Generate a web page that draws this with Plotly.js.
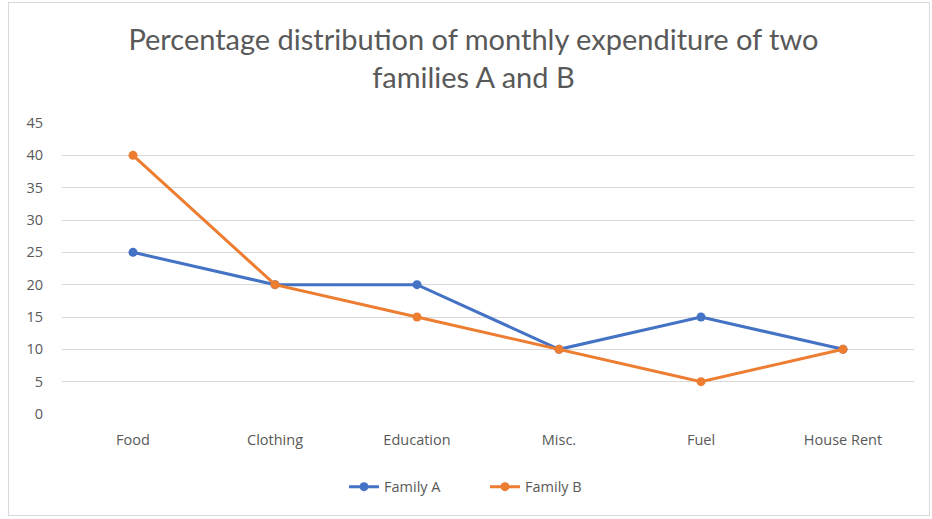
<!DOCTYPE html>
<html>
<head>
<meta charset="utf-8">
<script src="https://cdn.plot.ly/plotly-3.0.1.min.js"></script>
<style>
html,body{margin:0;padding:0;background:#fff;}
#wrap{position:relative;width:932px;height:519px;}
#chart{width:932px;height:519px;}
#border{position:absolute;left:8px;top:2px;width:922px;height:514px;border:1px solid #d9d9d9;box-sizing:border-box;pointer-events:none;}
</style>
</head>
<body>
<div id="wrap">
<div id="chart"></div>
<div id="border"></div>
</div>
<script>
const categories = ["Food", "Clothing", "Education", "Misc.", "Fuel", "House Rent"];
const familyA = [25, 20, 20, 10, 15, 10];
const familyB = [40, 20, 15, 10, 5, 10];
const yTicks = [0, 5, 10, 15, 20, 25, 30, 35, 40, 45];

const traces = [
  {x: categories, y: familyA, name: "Family A", type: "scatter", mode: "lines+markers",
   line: {color: "#4472C4", width: 3}, marker: {color: "#4472C4", size: 9}},
  {x: categories, y: familyB, name: "Family B", type: "scatter", mode: "lines+markers",
   line: {color: "#ED7D31", width: 3}, marker: {color: "#ED7D31", size: 9}}
];

const tickFont = {family: "'Open Sans', sans-serif", size: 14.5, color: "#595959"};

const layout = {
  width: 932, height: 519,
  paper_bgcolor: "#fff", plot_bgcolor: "#fff",
  margin: {l: 62, r: 18, t: 123, b: 105},
  font: {family: "'Open Sans', sans-serif", color: "#595959", size: 14.5},
  title: {text: "Percentage distribution of monthly expenditure of two<br>families A and B",
          font: {family: "Lato, 'Open Sans', sans-serif", size: 29, color: "#595959"},
          x: 0.508, xanchor: "center", y: 1 - 50/519, yanchor: "middle", yref: "container"},
  xaxis: {type: "category", range: [-0.5, 5.5], showgrid: false, zeroline: false, showline: false,
          ticks: "", ticklabelstandoff: 15, tickfont: tickFont, fixedrange: true},
  yaxis: {range: [0, 45], tickvals: yTicks, showgrid: true, gridcolor: "#d9d9d9", gridwidth: 1,
          zeroline: false, showline: false, ticks: "", ticklabelstandoff: 18,
          tickfont: tickFont, fixedrange: true},
  showlegend: true,
  legend: {orientation: "h", x: (344 - 62) / 852, xanchor: "left", y: -0.25, yanchor: "middle",
           font: tickFont, entrywidth: 96, entrywidthmode: "pixels"}
};

Plotly.newPlot("chart", traces, layout, {displayModeBar: false, staticPlot: true});
</script>
</body>
</html>
